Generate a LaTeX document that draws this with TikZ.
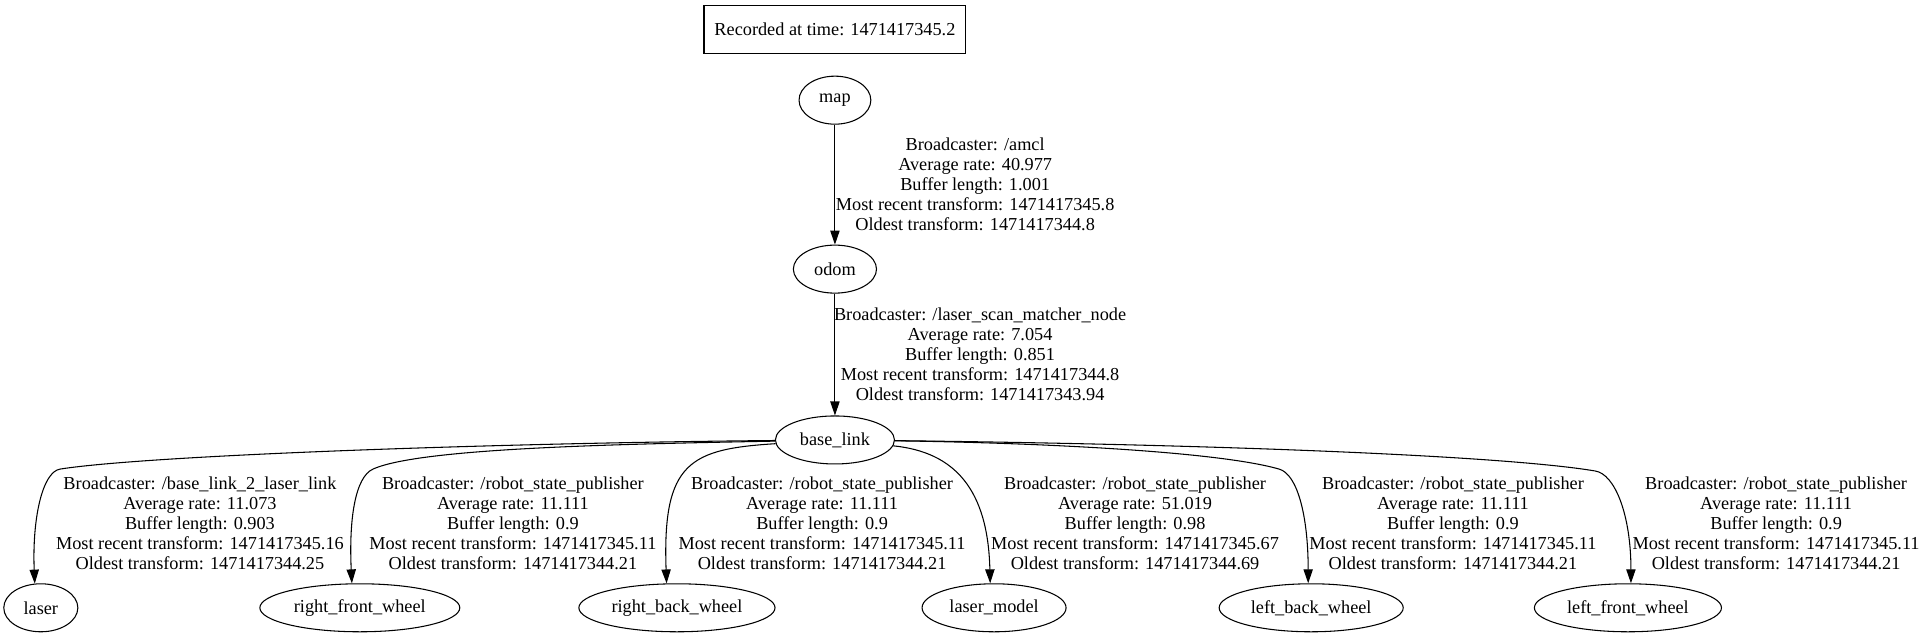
\documentclass[tikz,border=0pt]{standalone}
\usepackage{fontspec}
\setmainfont{Liberation Serif}
\usetikzlibrary{arrows.meta,shapes.geometric}
\tikzset{
  tfnode/.style = {draw, thick, ellipse, inner sep=0pt, minimum height=1.27cm},
  stamp/.style  = {draw, thick, rectangle, inner sep=0pt, minimum width=6.93cm,
                   minimum height=1.27cm},
  info/.style   = {align=center, inner sep=0pt},
  tfedge/.style = {-{Triangle[length=10.5pt,width=7pt]}, thick},
}
\newcommand{\edgeinfo}[7]{\node[info] (#1) at (#2) {Broadcaster: #3\\Average rate: #4\\Buffer length: #5\\Most recent transform: #6\\Oldest transform: #7};}

\begin{document}
\begin{tikzpicture}[x=1cm,y=1cm,font=\fontsize{13.75}{15}\selectfont]
\useasboundingbox (0,0) rectangle (50.93,-16.85);
\node[stamp] (stamp) at (22.09,-0.77) {Recorded at time: 1471417345.2};
\node[tfnode,minimum width=1.90cm] (map) at (22.09,-2.65) {map};
\node[tfnode,minimum width=2.20cm] (odom) at (22.09,-7.12) {odom};
\node[tfnode,minimum width=3.15cm] (base_link) at (22.09,-11.64) {base\_link};
\node[tfnode,minimum width=1.96cm] (laser) at (1.08,-16.08) {laser};
\node[tfnode,minimum width=5.29cm] (right_front_wheel) at (9.52,-16.08) {right\_front\_wheel};
\node[tfnode,minimum width=5.19cm] (right_back_wheel) at (17.91,-16.08) {right\_back\_wheel};
\node[tfnode,minimum width=3.81cm] (laser_model) at (26.30,-16.08) {laser\_model};
\node[tfnode,minimum width=4.87cm] (left_back_wheel) at (34.69,-16.08) {left\_back\_wheel};
\node[tfnode,minimum width=4.95cm] (left_front_wheel) at (43.07,-16.08) {left\_front\_wheel};
\draw[tfedge] (map) -- (odom);
\draw[tfedge] (odom) -- (base_link);
\draw[tfedge] (base_link) .. controls (13.23,-11.72) and (3.97,-12.04) .. (1.59,-12.41)
  .. controls (1.11,-12.49) and (0.85,-13.76) .. (laser.104);
\draw[tfedge] (base_link) .. controls (16.40,-11.75) and (11.11,-11.85) .. (9.87,-12.41)
  .. controls (9.39,-12.62) and (9.23,-13.76) .. (right_front_wheel.108);
\draw[tfedge] (base_link) .. controls (18.26,-11.88) and (17.52,-12.22) .. (right_back_wheel.113);
\draw[tfedge] (base_link) .. controls (25.27,-11.96) and (26.14,-12.96) .. (laser_model.99);
\draw[tfedge] (base_link) .. controls (27.78,-11.72) and (32.28,-11.96) .. (33.84,-12.41)
  .. controls (34.32,-12.54) and (34.61,-13.63) .. (left_back_wheel.97);
\draw[tfedge] (base_link) .. controls (31.75,-11.75) and (39.69,-12.04) .. (42.20,-12.46)
  .. controls (42.73,-12.54) and (43.15,-13.63) .. (left_front_wheel.83);
\edgeinfo{amcl}{25.80,-4.87}{/amcl}{40.977}{1.001}{1471417345.8}{1471417344.8}
\edgeinfo{matcher}{25.93,-9.37}{/laser\_scan\_matcher\_node}{7.054}{0.851}{1471417344.8}{1471417343.94}
\edgeinfo{laserlink}{5.29,-13.84}{/base\_link\_2\_laser\_link}{11.073}{0.903}{1471417345.16}{1471417344.25}
\edgeinfo{rfw}{13.57,-13.84}{/robot\_state\_publisher}{11.111}{0.9}{1471417345.11}{1471417344.21}
\edgeinfo{rbw}{21.75,-13.84}{/robot\_state\_publisher}{11.111}{0.9}{1471417345.11}{1471417344.21}
\edgeinfo{lmodel}{30.03,-13.84}{/robot\_state\_publisher}{51.019}{0.98}{1471417345.67}{1471417344.69}
\edgeinfo{lbw}{38.44,-13.84}{/robot\_state\_publisher}{11.111}{0.9}{1471417345.11}{1471417344.21}
\edgeinfo{lfw}{46.99,-13.84}{/robot\_state\_publisher}{11.111}{0.9}{1471417345.11}{1471417344.21}
\end{tikzpicture}
\end{document}
